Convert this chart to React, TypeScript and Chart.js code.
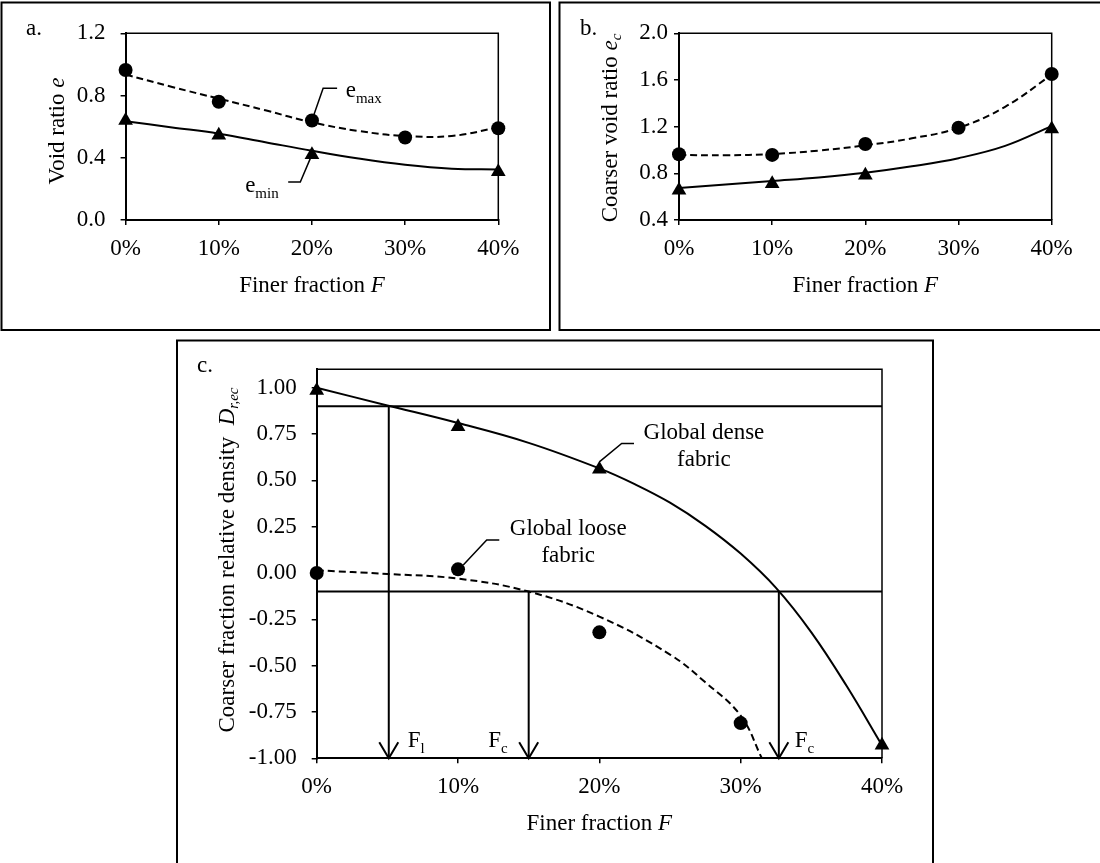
import React, { useEffect, useRef } from 'react';
import { Chart, registerables } from 'chart.js';

Chart.register(...registerables);

const W = 1100;
const H = 863;
const FONT = '"Liberation Serif", "Times New Roman", serif';
const FS = 23;

// ---------- shared axis values ----------
const xTicks = [0, 10, 20, 30, 40];
const fitF = [0, 5, 10, 15, 20, 25, 30, 35, 40];

// ---------- panel a: void ratio ----------
const aTicksY = [0, 0.4, 0.8, 1.2];
const eMaxF = [0, 10, 20, 30, 40];
const eMaxPts = [0.964, 0.76, 0.64, 0.53, 0.59];
const eMinF = [0, 10, 20, 40];
const eMinPts = [0.64, 0.545, 0.42, 0.31];
const eMaxFit = [0.935, 0.855, 0.78, 0.705, 0.628, 0.572, 0.54, 0.54, 0.595];
const eMinFit = [0.635, 0.595, 0.555, 0.5, 0.445, 0.395, 0.355, 0.33, 0.325];

// ---------- panel b: coarser void ratio ----------
const bTicksY = [0.4, 0.8, 1.2, 1.6, 2.0];
const ecMaxF = [0, 10, 20, 30, 40];
const ecMaxPts = [0.963, 0.958, 1.051, 1.191, 1.651];
const ecMinF = [0, 10, 20, 40];
const ecMinPts = [0.655, 0.71, 0.783, 1.18];
const ecMaxFit = [0.957, 0.955, 0.965, 0.995, 1.04, 1.1, 1.19, 1.37, 1.645];
const ecMinFit = [0.675, 0.705, 0.735, 0.765, 0.805, 0.86, 0.93, 1.035, 1.205];

// ---------- panel c: coarser fraction relative density ----------
const cTicksY = [-1, -0.75, -0.5, -0.25, 0, 0.25, 0.5, 0.75, 1.0];
const denseF = [0, 10, 20, 40];
const densePts = [0.985, 0.79, 0.56, -0.93];
const looseF = [0, 10, 20, 30];
const loosePts = [0.0, 0.02, -0.32, -0.81];
const denseFitF = [0, 5, 10, 15, 20, 22.5, 25, 27.5, 30, 32.5, 35, 37.5, 40];
const denseFit = [1.0, 0.905, 0.81, 0.703, 0.565, 0.48, 0.38, 0.255, 0.105, -0.08, -0.32, -0.61, -0.93];
const looseFitF = [0, 5, 10, 15, 20, 25, 27.5, 30, 31.5];
const looseFit = [0.015, -0.005, -0.03, -0.1, -0.235, -0.44, -0.59, -0.77, -1.0];
const thresholds = [0.9, -0.1];
const arrowF = [5.1, 15, 32.7];
const arrowFrom = [0.9, -0.1, -0.1];
const arrowSubs = ['l', 'c', 'c'];

type Area = { left: number; top: number; right: number; bottom: number };
type Seg = { t: string; it?: boolean; sub?: boolean };

const pts = (xs: number[], ys: number[]) => xs.map((x, i) => ({ x, y: ys[i] }));

function markerDs(data: any[], style: string) {
  return {
    data,
    showLine: false,
    pointStyle: style,
    pointRadius: style === 'circle' ? 7 : 8.5,
    pointBackgroundColor: '#000',
    pointBorderColor: '#000',
    pointBorderWidth: 0,
    clip: false,
  };
}

function curveDs(data: any[], dashed: boolean) {
  return {
    data,
    showLine: true,
    borderColor: '#000',
    borderWidth: 2,
    borderDash: dashed ? [7, 4] : [],
    pointRadius: 0,
    tension: 0.4,
    fill: false,
    clip: false,
  };
}

function line(ctx: CanvasRenderingContext2D, p: number[][], w = 1.5) {
  ctx.save();
  ctx.strokeStyle = '#000';
  ctx.lineWidth = w;
  ctx.setLineDash([]);
  ctx.beginPath();
  p.forEach(([x, y], i) => (i ? ctx.lineTo(x, y) : ctx.moveTo(x, y)));
  ctx.stroke();
  ctx.restore();
}

function rich(
  ctx: CanvasRenderingContext2D,
  segs: Seg[],
  x: number,
  y: number,
  opts: { size?: number; align?: 'left' | 'center' | 'right'; base?: CanvasTextBaseline; rot?: boolean } = {}
) {
  const size = opts.size ?? FS;
  const sub = Math.round(size * 0.65);
  ctx.save();
  ctx.translate(x, y);
  if (opts.rot) ctx.rotate(-Math.PI / 2);
  ctx.fillStyle = '#000';
  ctx.textAlign = 'left';
  ctx.textBaseline = opts.base ?? 'alphabetic';
  const f = (s: Seg) => `${s.it ? 'italic ' : ''}${s.sub ? sub : size}px ${FONT}`;
  const ws = segs.map((s) => {
    ctx.font = f(s);
    return ctx.measureText(s.t).width;
  });
  const tot = ws.reduce((a, b) => a + b, 0);
  let cx = opts.align === 'center' ? -tot / 2 : opts.align === 'right' ? -tot : 0;
  segs.forEach((s, i) => {
    ctx.font = f(s);
    ctx.fillText(s.t, cx, s.sub ? size * 0.28 : 0);
    cx += ws[i];
  });
  ctx.restore();
}

type PanelCfg = {
  id: string;
  area: Area;
  box: number[];
  yTicks: number[];
  yMin: number;
  yMax: number;
  yDec: number;
  yPad: number;
  datasets: any[];
  letter: { t: string; x: number; y: number };
  yTitle: Seg[];
  yTitlePos: { dx: number; cy: number };
  extrasBefore?: (ctx: CanvasRenderingContext2D, xs: any, ys: any, ca: any) => void;
  extrasAfter?: (ctx: CanvasRenderingContext2D, xs: any, ys: any, ca: any) => void;
};

function makeConfig(p: PanelCfg): any {
  const tickFont = { family: FONT, size: FS };
  return {
    type: 'scatter',
    data: { datasets: p.datasets },
    options: {
      responsive: false,
      animation: false,
      devicePixelRatio: 1,
      events: [],
      layout: {
        padding: {
          left: p.area.left - 100,
          top: p.area.top,
          right: W - p.area.right,
          bottom: H - p.area.bottom - 80,
        },
      },
      plugins: { legend: { display: false }, tooltip: { enabled: false }, title: { display: false } },
      scales: {
        x: {
          type: 'linear',
          min: 0,
          max: 40,
          afterBuildTicks: (s: any) => {
            s.ticks = xTicks.map((v) => ({ value: v }));
          },
          afterFit: (s: any) => {
            s.height = 80;
          },
          ticks: {
            callback: (v: any) => `${v}%`,
            font: tickFont,
            color: '#000',
            padding: 10,
            maxRotation: 0,
            autoSkip: false,
          },
          grid: { drawOnChartArea: false, drawTicks: true, tickLength: 5, color: '#000', lineWidth: 1.5 },
          border: { display: true, color: '#000', width: 2 },
        },
        y: {
          type: 'linear',
          min: p.yMin,
          max: p.yMax,
          afterBuildTicks: (s: any) => {
            s.ticks = p.yTicks.map((v) => ({ value: v }));
          },
          afterFit: (s: any) => {
            s.width = 100;
          },
          ticks: {
            callback: (v: any) => Number(v).toFixed(p.yDec),
            font: tickFont,
            color: '#000',
            padding: p.yPad,
            autoSkip: false,
          },
          grid: { drawOnChartArea: false, drawTicks: true, tickLength: 5, color: '#000', lineWidth: 1.5 },
          border: { display: true, color: '#000', width: 2 },
        },
      },
    },
    plugins: [
      {
        id: 'deco_' + p.id,
        beforeDatasetsDraw(chart: any) {
          const ctx = chart.ctx as CanvasRenderingContext2D;
          const ca = chart.chartArea;
          line(ctx, [[ca.left, ca.top], [ca.right, ca.top], [ca.right, ca.bottom]], 1.5);
          if (p.extrasBefore) p.extrasBefore(ctx, chart.scales.x, chart.scales.y, ca);
        },
        afterDraw(chart: any) {
          const ctx = chart.ctx as CanvasRenderingContext2D;
          const ca = chart.chartArea;
          const [bl, bt, br, bb] = p.box;
          ctx.save();
          ctx.strokeStyle = '#000';
          ctx.lineWidth = 2;
          ctx.strokeRect(bl, bt, br - bl, bb - bt);
          ctx.restore();
          rich(ctx, [{ t: p.letter.t }], p.letter.x, p.letter.y);
          rich(ctx, [{ t: 'Finer fraction ' }, { t: 'F', it: true }], (ca.left + ca.right) / 2, ca.bottom + 71.7, {
            align: 'center',
          });
          rich(ctx, p.yTitle, ca.left - p.yTitlePos.dx, p.yTitlePos.cy, { align: 'center', base: 'middle', rot: true });
          if (p.extrasAfter) p.extrasAfter(ctx, chart.scales.x, chart.scales.y, ca);
        },
      },
    ],
  };
}

// annotation anchors (data coordinates)
const eMaxLeader = [[20.2, 0.675], [21.2, 0.847], [22.7, 0.847]];
const eMinLeader = [[20.0, 0.42], [18.75, 0.244], [17.45, 0.244]];
const denseLeader = [[20.0, 0.6], [21.58, 0.7], [22.45, 0.7]];
const looseLeader = [[10.37, 0.043], [12.03, 0.178], [12.92, 0.178]];

const toPx = (xs: any, ys: any, arr: number[][]) => arr.map(([f, v]) => [xs.getPixelForValue(f), ys.getPixelForValue(v)]);

const cfgA = () =>
  makeConfig({
    id: 'a',
    area: { left: 125.6, top: 33.3, right: 498.3, bottom: 220 },
    box: [1.5, 2.5, 550, 330],
    yTicks: aTicksY,
    yMin: 0,
    yMax: 1.2,
    yDec: 1,
    yPad: 15,
    datasets: [
      markerDs(pts(eMaxF, eMaxPts), 'circle'),
      markerDs(pts(eMinF, eMinPts), 'triangle'),
      curveDs(pts(fitF, eMaxFit), true),
      curveDs(pts(fitF, eMinFit), false),
    ],
    letter: { t: 'a.', x: 26, y: 35 },
    yTitle: [{ t: 'Void ratio ' }, { t: 'e', it: true }],
    yTitlePos: { dx: 67.6, cy: 131 },
    extrasAfter(ctx, xs, ys) {
      line(ctx, toPx(xs, ys, eMaxLeader), 1.5);
      line(ctx, toPx(xs, ys, eMinLeader), 1.5);
      rich(ctx, [{ t: 'e' }, { t: 'max', sub: true }], xs.getPixelForValue(23.62), ys.getPixelForValue(0.793));
      rich(ctx, [{ t: 'e' }, { t: 'min', sub: true }], xs.getPixelForValue(12.83), ys.getPixelForValue(0.182));
    },
  });

const cfgB = () =>
  makeConfig({
    id: 'b',
    area: { left: 679, top: 33.3, right: 1051.7, bottom: 220 },
    box: [559.5, 2.5, 1103, 330],
    yTicks: bTicksY,
    yMin: 0.4,
    yMax: 2.0,
    yDec: 1,
    yPad: 6,
    datasets: [
      markerDs(pts(ecMaxF, ecMaxPts), 'circle'),
      markerDs(pts(ecMinF, ecMinPts), 'triangle'),
      curveDs(pts(fitF, ecMaxFit), true),
      curveDs(pts(fitF, ecMinFit), false),
    ],
    letter: { t: 'b.', x: 580, y: 35 },
    yTitle: [{ t: 'Coarser void ratio ' }, { t: 'e', it: true }, { t: 'c', it: true, sub: true }],
    yTitlePos: { dx: 68, cy: 128 },
  });

const cfgC = () =>
  makeConfig({
    id: 'c',
    area: { left: 316.7, top: 369.3, right: 882, bottom: 758.3 },
    box: [177, 340.5, 933, 875],
    yTicks: cTicksY,
    yMin: -1,
    yMax: 1.1,
    yDec: 2,
    yPad: 15,
    datasets: [
      markerDs(pts(denseF, densePts), 'triangle'),
      markerDs(pts(looseF, loosePts), 'circle'),
      curveDs(pts(denseFitF, denseFit), false),
      curveDs(pts(looseFitF, looseFit), true),
    ],
    letter: { t: 'c.', x: 197, y: 372 },
    yTitle: [{ t: 'Coarser fraction relative density  ' }, { t: 'D', it: true }, { t: 'r,ec', it: true, sub: true }],
    yTitlePos: { dx: 88.7, cy: 560 },
    extrasBefore(ctx, xs, ys, ca) {
      thresholds.forEach((v) => {
        const y = ys.getPixelForValue(v);
        line(ctx, [[ca.left, y], [ca.right, y]], 2);
      });
      arrowF.forEach((f, i) => {
        const x = xs.getPixelForValue(f);
        const y0 = ys.getPixelForValue(arrowFrom[i]);
        const y1 = ys.getPixelForValue(-1);
        line(ctx, [[x, y0], [x, y1]], 2);
        line(ctx, [[x - 9.5, y1 - 16], [x, y1], [x + 9.5, y1 - 16]], 2);
      });
    },
    extrasAfter(ctx, xs, ys, ca) {
      line(ctx, toPx(xs, ys, denseLeader), 1.5);
      line(ctx, toPx(xs, ys, looseLeader), 1.5);
      const dx = xs.getPixelForValue(27.4);
      rich(ctx, [{ t: 'Global dense' }], dx, ys.getPixelForValue(0.722), { align: 'center' });
      rich(ctx, [{ t: 'fabric' }], dx, ys.getPixelForValue(0.578), { align: 'center' });
      const lx = xs.getPixelForValue(17.8);
      rich(ctx, [{ t: 'Global loose' }], lx, ys.getPixelForValue(0.205), { align: 'center' });
      rich(ctx, [{ t: 'fabric' }], lx, ys.getPixelForValue(0.061), { align: 'center' });
      const by = ca.bottom - 11.6;
      arrowF.forEach((f, i) => {
        const x = xs.getPixelForValue(f);
        const segs = [{ t: 'F' }, { t: arrowSubs[i], sub: true }];
        if (i === 1) rich(ctx, segs, x - 21, by, { align: 'right' });
        else rich(ctx, segs, x + (i === 0 ? 19 : 16), by);
      });
    },
  });

export default function App() {
  const ra = useRef<HTMLCanvasElement>(null);
  const rb = useRef<HTMLCanvasElement>(null);
  const rc = useRef<HTMLCanvasElement>(null);

  useEffect(() => {
    const charts = [
      new Chart(ra.current as HTMLCanvasElement, cfgA()),
      new Chart(rb.current as HTMLCanvasElement, cfgB()),
      new Chart(rc.current as HTMLCanvasElement, cfgC()),
    ];
    return () => charts.forEach((c) => c.destroy());
  }, []);

  const cs: React.CSSProperties = { position: 'absolute', left: 0, top: 0, width: W, height: H };
  return (
    <div style={{ position: 'absolute', left: 0, top: 0, width: W, height: H, background: '#fff', overflow: 'hidden' }}>
      <canvas ref={ra} width={W} height={H} style={cs} />
      <canvas ref={rb} width={W} height={H} style={cs} />
      <canvas ref={rc} width={W} height={H} style={cs} />
    </div>
  );
}
